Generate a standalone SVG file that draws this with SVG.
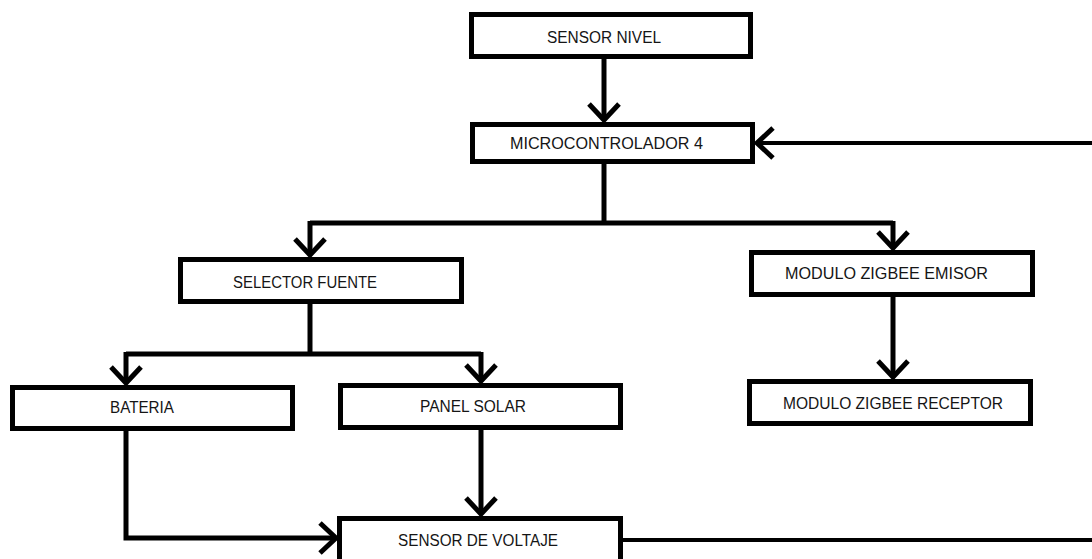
<svg xmlns="http://www.w3.org/2000/svg" width="1092" height="559" viewBox="0 0 1092 559">
<style>
.box{fill:#fff;stroke:#000;stroke-width:5}
.lbl{font-family:"Liberation Sans",Arial,sans-serif;font-size:16px;fill:#151515}
.ln{fill:none;stroke:#000;stroke-width:5}
.thin{stroke-width:4}
</style>
<defs>
<marker id="ah" markerUnits="userSpaceOnUse" viewBox="-20 -20 24 40" refX="0" refY="0" markerWidth="24" markerHeight="40" orient="auto" overflow="visible">
<path d="M-16,-15 L0,0 L-16,15" fill="none" stroke="#000" stroke-width="5"/>
</marker>
</defs>
<rect width="1092" height="559" fill="#fff"/>
<g id="connectors">
<path class="ln" d="M604,59 V120" marker-end="url(#ah)"/>
<path class="ln thin" d="M1092,143 H757" marker-end="url(#ah)"/>
<path class="ln" d="M604,164 V223"/>
<path class="ln" d="M310,223 H893"/>
<path class="ln" d="M310,221 V255" marker-end="url(#ah)"/>
<path class="ln" d="M893,221 V248" marker-end="url(#ah)"/>
<path class="ln" d="M893,297 V377" marker-end="url(#ah)"/>
<path class="ln" d="M310,304 V354"/>
<path class="ln" d="M126,354 H481"/>
<path class="ln" d="M126,352 V383" marker-end="url(#ah)"/>
<path class="ln" d="M481,352 V381" marker-end="url(#ah)"/>
<path class="ln" d="M126,431 V538 H336" marker-end="url(#ah)"/>
<path class="ln" d="M481,430 V514" marker-end="url(#ah)"/>
<path class="ln thin" d="M623,540 H1092"/>
</g>
<g id="sensor-nivel"><rect class="box" x="471.5" y="14.5" width="279" height="42"/><text class="lbl" x="547" y="43" textLength="114" lengthAdjust="spacingAndGlyphs">SENSOR NIVEL</text></g>
<g id="microcontrolador"><rect class="box" x="472.5" y="124.5" width="280" height="37"/><text class="lbl" x="510" y="149" textLength="193" lengthAdjust="spacingAndGlyphs">MICROCONTROLADOR 4</text></g>
<g id="selector-fuente"><rect class="box" x="180.5" y="259.5" width="281" height="42"/><text class="lbl" x="233" y="288" textLength="144" lengthAdjust="spacingAndGlyphs">SELECTOR FUENTE</text></g>
<g id="zigbee-emisor"><rect class="box" x="751.5" y="252.5" width="281" height="42"/><text class="lbl" x="785" y="279" textLength="203" lengthAdjust="spacingAndGlyphs">MODULO ZIGBEE EMISOR</text></g>
<g id="zigbee-receptor"><rect class="box" x="749.5" y="381.5" width="281" height="42"/><text class="lbl" x="783" y="409" textLength="220" lengthAdjust="spacingAndGlyphs">MODULO ZIGBEE RECEPTOR</text></g>
<g id="bateria"><rect class="box" x="12.5" y="387.5" width="280" height="41"/><text class="lbl" x="110" y="413" textLength="64" lengthAdjust="spacingAndGlyphs">BATERIA</text></g>
<g id="panel-solar"><rect class="box" x="340.5" y="385.5" width="280" height="42"/><text class="lbl" x="420" y="412" textLength="106" lengthAdjust="spacingAndGlyphs">PANEL SOLAR</text></g>
<g id="sensor-voltaje"><rect class="box" x="339.5" y="518.5" width="281" height="45"/><text class="lbl" x="398" y="546" textLength="160" lengthAdjust="spacingAndGlyphs">SENSOR DE VOLTAJE</text></g>
</svg>
